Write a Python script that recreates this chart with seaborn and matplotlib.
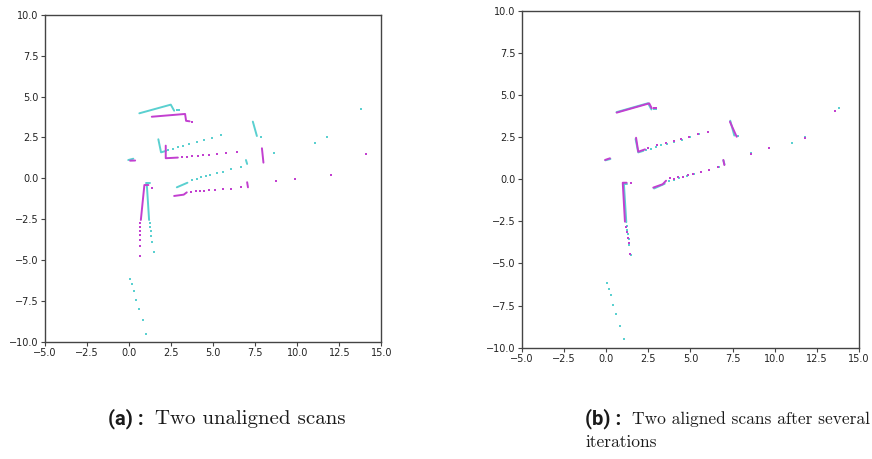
import matplotlib
matplotlib.use("Agg")
import matplotlib.pyplot as plt
import pandas as pd
import seaborn as sns

CYAN = "#5ad0d0"
MAGENTA = "#c23fd0"

# ---- reference scan (cyan), same in both panels ----
# dense wall pieces: (segment id, x, y)
cyan_walls_seg = [0, 0, 0, 1, 1, 1, 2, 2, 3, 3, 4, 4, 5, 5, 6, 6, 7, 7]
cyan_walls_x = [0.61, 2.48, 2.68, 1.74, 1.90, 2.20, 7.36, 7.60, 0.99, 1.25,
                1.05, 1.19, 2.84, 3.47, 6.95, 7.02, -0.05, 0.25]
cyan_walls_y = [3.98, 4.51, 4.14, 2.39, 1.59, 1.68, 3.47, 2.59, -0.27, -0.27,
                -0.31, -2.55, -0.55, -0.27, 1.12, 0.88, 1.12, 1.20]
# single returns
cyan_pts_x = [2.82, 2.98, 2.34, 2.64, 2.93, 3.23, 3.59, 4.03, 4.48, 4.96, 5.48,
              7.82, 8.61, 11.05, 11.79, 13.81,
              3.73, 4.03, 4.29, 4.57, 4.82, 5.22, 5.61, 6.07, 6.67,
              1.23, 1.25, 1.29, 1.33, 1.37, 1.47,
              0.04, 0.16, 0.28, 0.42, 0.58, 0.82, 1.03]
cyan_pts_y = [4.16, 4.18, 1.73, 1.81, 1.90, 2.00, 2.10, 2.22, 2.35, 2.49, 2.67,
              2.55, 1.53, 2.16, 2.51, 4.23,
              -0.10, -0.02, 0.06, 0.14, 0.20, 0.31, 0.40, 0.55, 0.71,
              -2.76, -3.00, -3.23, -3.53, -3.88, -4.49,
              -6.17, -6.49, -6.90, -7.45, -8.00, -8.69, -9.51]

# ---- second scan before alignment (magenta, panel a) ----
mag_a_walls_seg = [0, 0, 0, 0, 1, 1, 1, 2, 2, 3, 3, 3, 4, 4, 4, 5, 5, 6, 6]
mag_a_walls_x = [1.35, 3.33, 3.39, 3.60, 2.18, 2.18, 2.90, 0.06, 0.36,
                 1.15, 0.91, 0.70, 2.68, 3.25, 3.43, 7.02, 7.07, 7.90, 7.99]
mag_a_walls_y = [3.77, 3.94, 3.52, 3.49, 2.00, 1.23, 1.27, 1.08, 1.09,
                 -0.41, -0.41, -2.55, -1.08, -1.00, -0.86, -0.24, -0.55, 1.84, 0.96]
mag_a_pts_x = [3.72, 3.14, 3.43, 3.73, 4.07, 4.40, 4.76, 5.22, 5.77, 6.43,
               1.39, 0.67, 0.65, 0.65, 0.65, 0.65, 0.65, 0.64,
               3.69, 3.97, 4.23, 4.48, 4.78, 5.12, 5.58, 6.05, 6.67,
               8.71, 9.88, 12.02, 14.07]
mag_a_pts_y = [3.47, 1.29, 1.32, 1.35, 1.37, 1.41, 1.43, 1.49, 1.53, 1.59,
               -0.61, -2.76, -3.00, -3.23, -3.47, -3.78, -4.15, -4.74,
               -0.82, -0.78, -0.76, -0.76, -0.74, -0.72, -0.68, -0.64, -0.55,
               -0.15, -0.02, 0.18, 1.47]

# ---- second scan after alignment (magenta, panel b) ----
mag_b_walls_seg = [0, 0, 0, 1, 1, 1, 2, 2, 3, 3, 4, 4, 4, 5, 5, 5, 6, 6]
mag_b_walls_x = [0.62, 2.55, 2.70, 1.77, 1.90, 2.30, 7.34, 7.74, -0.07, 0.22,
                 1.21, 0.98, 1.11, 2.79, 3.35, 3.55, 6.95, 7.01]
mag_b_walls_y = [3.95, 4.50, 4.21, 2.46, 1.63, 1.77, 3.41, 2.52, 1.14, 1.24,
                 -0.21, -0.21, -2.52, -0.50, -0.30, -0.09, 1.14, 0.84]
mag_b_pts_x = [2.82, 2.95, 2.46, 3.03, 3.53, 4.04, 4.44, 4.91, 5.43, 6.06,
               8.59, 9.68, 11.80, 13.59,
               3.78, 4.04, 4.28, 4.54, 4.83, 5.17, 5.61, 6.10, 6.65,
               1.45, 1.17, 1.23, 1.29, 1.33, 1.43]
mag_b_pts_y = [4.21, 4.21, 1.83, 2.01, 2.17, 2.28, 2.39, 2.52, 2.66, 2.82,
               1.50, 1.83, 2.46, 4.05,
               0.05, -0.01, 0.11, 0.15, 0.23, 0.31, 0.45, 0.55, 0.71,
               -0.23, -2.82, -3.12, -3.51, -3.80, -4.44]

x_ticks = [-5.0, -2.5, 0.0, 2.5, 5.0, 7.5, 10.0, 12.5, 15.0]
y_ticks = [-10.0, -7.5, -5.0, -2.5, 0.0, 2.5, 5.0, 7.5, 10.0]

sns.set_style("ticks")
plt.rcParams["font.family"] = ["DejaVu Sans"]


def draw_scan(ax, seg, wx, wy, px, py, color):
    walls = pd.DataFrame({"seg": seg, "x": wx, "y": wy})
    sns.lineplot(data=walls, x="x", y="y", units="seg", estimator=None,
                 sort=False, color=color, lw=1.4, ax=ax)
    pts = pd.DataFrame({"x": px, "y": py})
    sns.scatterplot(data=pts, x="x", y="y", color=color, s=4, marker="s",
                    linewidth=0, ax=ax)


def style_axes(ax):
    ax.set_xlim(-5, 15)
    ax.set_ylim(-10, 10)
    ax.set_xticks(x_ticks)
    ax.set_yticks(y_ticks)
    ax.set_xticklabels([f"{t:.1f}".replace("-", "\u2212") for t in x_ticks])
    ax.set_yticklabels([f"{t:.1f}".replace("-", "\u2212") for t in y_ticks])
    ax.set_xlabel("")
    ax.set_ylabel("")
    ax.tick_params(labelsize=7, length=3, width=0.8, color="#444444",
                   pad=1.5, labelcolor="#222222")
    for sp in ax.spines.values():
        sp.set_visible(True)
        sp.set_color("#444444")
        sp.set_linewidth(1.0)


fig = plt.figure(figsize=(8.72, 4.59), dpi=100)
ax_a = fig.add_axes([0.0516, 0.2556, 0.3857, 0.7118])
ax_b = fig.add_axes([0.5986, 0.2425, 0.3865, 0.7342])

draw_scan(ax_a, cyan_walls_seg, cyan_walls_x, cyan_walls_y,
          cyan_pts_x, cyan_pts_y, CYAN)
draw_scan(ax_a, mag_a_walls_seg, mag_a_walls_x, mag_a_walls_y,
          mag_a_pts_x, mag_a_pts_y, MAGENTA)
draw_scan(ax_b, cyan_walls_seg, cyan_walls_x, cyan_walls_y,
          cyan_pts_x, cyan_pts_y, CYAN)
draw_scan(ax_b, mag_b_walls_seg, mag_b_walls_x, mag_b_walls_y,
          mag_b_pts_x, mag_b_pts_y, MAGENTA)

style_axes(ax_a)
style_axes(ax_b)

# captions
ink = "#1a1a1a"
fig.text(108 / 872, 1 - 424 / 459, "(a) :", family="Roboto", weight="bold",
         fontsize=14.5, color=ink, va="baseline")
fig.text(155 / 872, 1 - 424 / 459, "Two unaligned scans", family="cmr10",
         fontsize=15, color=ink, va="baseline")
fig.text(585 / 872, 1 - 424 / 459, "(b) :", family="Roboto", weight="bold",
         fontsize=14.5, color=ink, va="baseline")
fig.text(632 / 872, 1 - 424 / 459, "Two aligned scans after several",
         family="cmr10", fontsize=12.5, color=ink, va="baseline")
fig.text(585 / 872, 1 - 447 / 459, "iterations", family="cmr10",
         fontsize=12.5, color=ink, va="baseline")

fig.savefig("out.png", dpi=100)
plt.close(fig)
